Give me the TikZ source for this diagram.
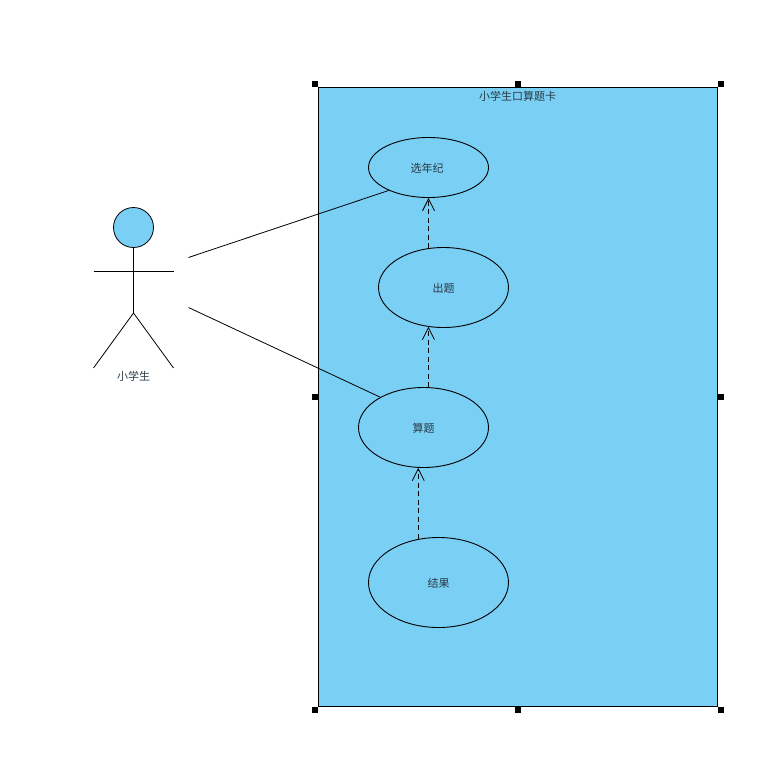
\documentclass[tikz,border=0pt]{standalone}
\usepackage{fontspec}
\usepackage{xcolor}
\setmainfont{Liberation Serif}
\newfontfamily\cjk{Noto Sans CJK SC}
\usetikzlibrary{positioning,arrows.meta,shapes.geometric}
\definecolor{caseblue}{HTML}{7ACFF5}
\definecolor{inktext}{HTML}{2A3A44}
\tikzset{
  usecase/.style = {ellipse, draw=black, fill=caseblue, line width=0.9pt, inner sep=0pt,
                    font=\cjk\fontsize{11}{13}\selectfont, text=inktext,
                    text height=10.5pt, text depth=1.5pt},
  handle/.style  = {rectangle, fill=black, inner sep=0pt, minimum size=6pt},
  assoc/.style   = {line width=0.8pt, draw=black},
  dep/.style     = {-{Straight Barb[length=12pt, width=12pt]},
                    dash pattern=on 5pt off 3.5pt, line width=0.8pt, draw=black},
  limb/.style    = {line width=0.8pt, draw=black},
  lbl/.style     = {font=\cjk\fontsize{11}{13}\selectfont, text=inktext, inner sep=0pt},
}
\begin{document}
\begin{tikzpicture}[x=1pt, y=-1pt]
  \useasboundingbox (0,0) rectangle (777,772);

  % system box
  \draw[draw=black, fill=caseblue, line width=0.9pt] (318.5,87.5) rectangle (717.5,706.5);
  \node[lbl] (title) at (517.5,96.5) {小学生口算题卡};
  \foreach \n/\x/\y in {a/315/84, b/518/84, c/721/84, d/315/397, e/721/397, f/315/710, g/518/710, h/721/710} {
    \node[handle] (h\n) at (\x,\y) {};
  }

  % use cases
  \node[usecase, minimum width=120pt, minimum height=60pt] (pick) at (428.5,167.5) {\hspace*{-3pt}选年纪};
  \node[usecase, minimum width=130pt, minimum height=80pt] (make) at (443.5,287.5) {出题};
  \node[usecase, minimum width=130pt, minimum height=80pt] (calc) at (423.5,427.5) {算题};
  \node[usecase, minimum width=140pt, minimum height=90pt] (result) at (438.5,582.5) {结果};

  % actor
  \node[circle, draw=black, fill=caseblue, line width=0.8pt, inner sep=0pt, minimum size=40pt] (head) at (133.5,227.5) {};
  \coordinate (hip) at (133.5,313);
  \coordinate (armL) at (93.5,271);
  \coordinate (armR) at (173.5,271);
  \coordinate (footL) at (93.5,368);
  \coordinate (footR) at (173.5,368);
  \draw[limb] (head.south) -- (hip);
  \draw[limb] (armL) -- (armR);
  \draw[limb] (footL) -- (hip) -- (footR);
  \node[lbl] (student) at (133.5,376.5) {小学生};

  % links
  \coordinate (linkA) at (188.5,257.5);
  \coordinate (linkB) at (188.5,307.5);
  \draw[assoc] (linkA) -- (pick.210);
  \draw[assoc] (linkB) -- (calc.145);
  \draw[dep] (make.112 -| pick.south) -- (pick.south);
  \draw[dep] (calc.83) -- (calc.83 |- make.248);
  \draw[dep] (result.115) -- (result.115 |- calc.263);
\end{tikzpicture}
\end{document}
